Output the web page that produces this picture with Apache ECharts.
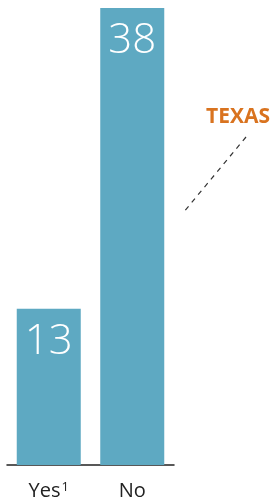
<!DOCTYPE html>
<html><head><meta charset="utf-8">
<script src="https://cdn.jsdelivr.net/npm/echarts@6/dist/echarts.min.js"></script>
<style>html,body{margin:0;padding:0;background:#fff}#c{width:271px;height:504px}</style>
</head><body><div id="c"></div>
<script>
const categories = ['Yes', 'No'];
const values = [13, 38];
const annotation = 'TEXAS';

const chart = echarts.init(document.getElementById('c'), null, {renderer: 'canvas'});
chart.setOption({
  animation: false,
  grid: {left: 7, right: 97, top: 8, bottom: 39},
  xAxis: {
    type: 'category',
    data: categories,
    axisTick: {show: false},
    axisLine: {lineStyle: {color: '#222', width: 1.5}},
    axisLabel: {
      interval: 0,
      hideOverlap: false,
      margin: 16,
      color: '#222',
      fontFamily: 'Open Sans',
      fontSize: 20,
      formatter: function (v) { return v === 'Yes' ? 'Yes{sup|1}' : v; },
      rich: {sup: {fontSize: 13, verticalAlign: 'top', color: '#222', fontFamily: 'Open Sans', padding: [0, 0, 8, 1]}}
    }
  },
  yAxis: {type: 'value', min: 0, max: 38, show: false, splitLine: {show: false}},
  series: [{
    type: 'bar',
    data: values,
    barWidth: 64,
    itemStyle: {color: '#5ea9c2'},
    label: {
      show: true,
      position: 'insideTop',
      distance: 12,
      color: '#fff',
      fontFamily: 'Open Sans',
      fontWeight: 300,
      fontSize: 42
    }
  }],
  graphic: [
    {type: 'text', left: 206, top: 107, style: {text: annotation, fill: '#d9731f', font: 'bold 21px "Open Sans"'}},
    {type: 'line', shape: {x1: 246, y1: 137, x2: 183, y2: 213}, style: {stroke: '#333', lineWidth: 1.2, lineDash: [5, 5]}}
  ]
});
</script></body></html>
